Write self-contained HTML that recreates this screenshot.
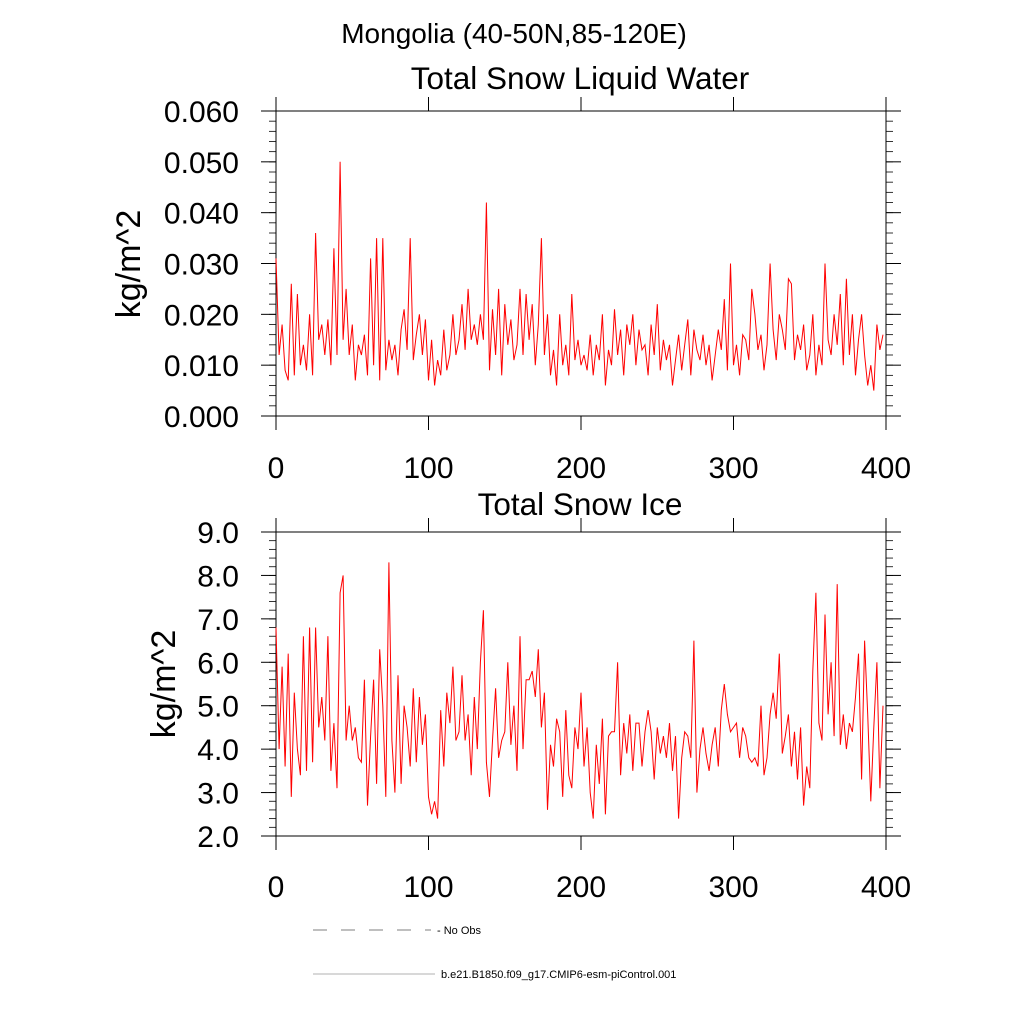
<!DOCTYPE html>
<html><head><meta charset="utf-8"><style>
html,body{margin:0;padding:0;background:#fff;}
svg{display:block;font-family:"Liberation Sans",sans-serif;}
</style></head><body>
<svg id="chart" width="1024" height="1024" viewBox="0 0 1024 1024" xmlns="http://www.w3.org/2000/svg">
<text x="514" y="43" font-size="28" text-anchor="middle">Mongolia (40-50N,85-120E)</text>
<text x="580" y="89" font-size="31.5" text-anchor="middle">Total Snow Liquid Water</text>
<text x="580" y="515" font-size="31.5" text-anchor="middle">Total Snow Ice</text>
<text transform="translate(140,264) rotate(-90)" font-size="34" text-anchor="middle">kg/m^2</text>
<text transform="translate(175,684) rotate(-90)" font-size="34" text-anchor="middle">kg/m^2</text>
<g>
<line x1="313" y1="930" x2="431" y2="930" stroke="#555" stroke-width="0.8" stroke-dasharray="14,14"/>
<text x="437" y="934" font-size="11">- No Obs</text>
<line x1="313" y1="974" x2="435" y2="974" stroke="#999" stroke-width="0.8"/>
<text x="441" y="978" font-size="11">b.e21.B1850.f09_g17.CMIP6-esm-piControl.001</text>
</g>
</svg>
<script>
// Top panel: Total Snow Liquid Water (values in thousandths of kg/m^2), one value every 2 years
const topValues = [31,12,18,9,7,26,8,24,10,14, 9,20,8,36,15,18,12,19,10,33, 12,50,15,25,12,18,7,14,12,16,
 8,31,10,35,7,35,9,15,11,14, 8,17,21,13,35,11,16,20,12,19, 7,15,6,11,8,17,9,12,20,12,
 15,22,13,25,15,18,14,20,15,42, 9,21,12,25,8,22,14,19,11,14, 25,12,24,15,22,10,18,35,12,20,
 8,13,6,20,10,14,8,24,11,15, 10,12,9,16,8,14,11,20,6,13, 10,21,12,17,8,18,14,20,10,17,
 13,14,8,18,12,22,9,15,11,14, 6,11,16,9,14,19,8,17,13,11, 16,10,14,7,12,17,13,23,9,30,
 10,14,8,16,15,11,25,20,13,16, 9,14,30,17,11,20,17,13,27,26, 11,16,13,18,9,12,20,8,14,10,
 30,15,12,20,14,24,10,27,12,20, 8,15,20,12,6,10,5,18,13,16];
// Bottom panel: Total Snow Ice (kg/m^2), one value every 2 years
const bottomValues = [6.8,4.0,5.9,3.6,6.2,2.9,5.3,4.0,3.4,6.6, 3.5,6.8,3.7,6.8,4.5,5.2,4.2,6.6,3.5,4.6,
 3.1,7.6,8.0,4.2,5.0,4.2,4.5,3.8,3.7,5.6, 2.7,4.3,5.6,3.2,6.3,5.0,2.9,8.3,4.2,3.0,
 5.7,3.2,5.0,4.5,3.6,5.4,3.7,5.2,4.1,4.8, 2.9,2.5,2.8,2.4,4.9,3.6,5.3,4.6,5.9,4.2,
 4.4,5.7,4.2,4.8,3.4,5.2,4.0,6.0,7.2,3.7, 2.9,4.2,5.4,3.8,4.2,4.4,6.0,4.1,5.0,3.5,
 6.6,4.0,5.6,5.6,5.8,5.2,6.3,4.5,5.3,2.6, 4.1,3.6,4.7,4.4,2.9,4.9,3.4,3.1,4.5,4.0,
 5.3,3.6,4.5,3.0,2.4,4.1,3.2,4.7,2.5,4.3, 4.4,4.4,6.0,3.4,4.6,3.9,4.8,3.5,4.6,4.6,
 3.6,4.4,4.9,4.4,3.3,4.5,3.9,4.3,3.8,4.6, 3.5,4.3,2.4,3.8,4.4,4.3,3.8,6.5,3.0,4.0,
 4.5,3.9,3.5,4.1,4.5,3.6,4.9,5.5,4.8,4.4, 4.5,4.6,3.8,4.5,4.3,3.8,3.7,3.8,3.6,5.0,
 3.4,3.8,4.8,5.3,4.7,6.2,3.9,4.3,4.8,3.6, 4.4,3.3,4.5,2.7,3.6,3.1,5.8,7.6,4.6,4.2,
 7.1,4.8,6.0,4.3,7.8,4.1,4.8,4.0,4.6,4.4, 5.2,6.2,3.3,6.5,4.8,2.8,4.5,6.0,3.1,5.0];
const xTicks = [0,100,200,300,400];
const topYTicks = [0,10,20,30,40,50,60];
const topYLabels = ["0.000","0.010","0.020","0.030","0.040","0.050","0.060"];
const bottomYTicks = [2,3,4,5,6,7,8,9];
const bottomYLabels = ["2.0","3.0","4.0","5.0","6.0","7.0","8.0","9.0"];

const NS = "http://www.w3.org/2000/svg";
const svg = document.getElementById("chart");
function mk(tag, attrs, parent){ const e=document.createElementNS(NS,tag); for(const k in attrs) e.setAttribute(k,attrs[k]); (parent||svg).appendChild(e); return e; }

function panel(name, top, bottom, ymin, ymax, yTicks, yLabels, minorStep, values, xLabelY){
  const L=276, R=886;
  const xs = v => L + (v-0)/(400-0)*(R-L);
  const ys = v => bottom - (v-ymin)/(ymax-ymin)*(bottom-top);
  const g = mk("g",{});
  
  
  const frame = mk("rect",{x:L,y:top,width:R-L,height:bottom-top,fill:"none",stroke:"#000","stroke-width":1},g);
  
  
  for(let v=ymin; v<=ymax+1e-9; v+=minorStep){
    const y=ys(v);
    mk("line",{x1:L-7,y1:y,x2:L,y2:y,stroke:"#000","stroke-width":0.8},g);
    mk("line",{x1:R,y1:y,x2:R+7,y2:y,stroke:"#000","stroke-width":0.8},g);
  }
  yTicks.forEach((v,i)=>{
    const y=ys(v);
    mk("line",{x1:L-15,y1:y,x2:L,y2:y,stroke:"#000","stroke-width":1},g);
    mk("line",{x1:R,y1:y,x2:R+15,y2:y,stroke:"#000","stroke-width":1},g);
    const t=mk("text",{x:239,y:y+11,"font-size":30,"text-anchor":"end"},g);
    
    
    t.textContent=yLabels[i];
  });
  xTicks.forEach(v=>{
    const x=xs(v);
    mk("line",{x1:x,y1:bottom,x2:x,y2:bottom+14,stroke:"#000","stroke-width":1},g);
    mk("line",{x1:x,y1:top-14,x2:x,y2:top,stroke:"#000","stroke-width":1},g);
    const t=mk("text",{x:x,y:xLabelY,"font-size":30,"text-anchor":"middle"},g);
    
    
    t.textContent=v;
  });
  const pts = values.map((v,i)=>xs(i*2).toFixed(1)+","+ys(v).toFixed(1)).join(" ");
  const line = mk("polyline",{points:pts,fill:"none",stroke:"#ff0000","stroke-width":1},g);
  
  
}
panel("top",111,416,0,60,topYTicks,topYLabels,2,topValues,478);
panel("bottom",532,836,2,9,bottomYTicks,bottomYLabels,0.2,bottomValues,897);
</script>
</body></html>
